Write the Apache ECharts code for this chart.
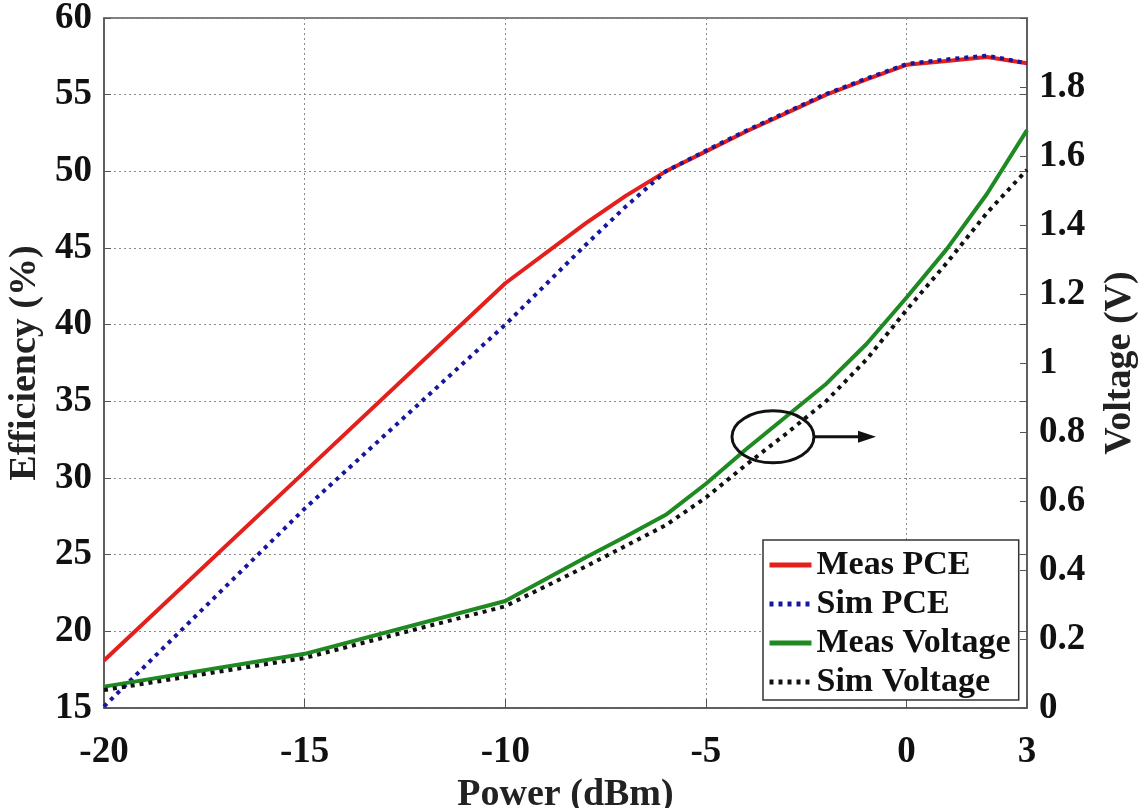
<!DOCTYPE html>
<html>
<head>
<meta charset="utf-8">
<script src="https://cdn.jsdelivr.net/npm/echarts@6/dist/echarts.min.js"></script>
<style>
html,body{margin:0;padding:0;background:#fff;}
#main{width:1146px;height:808px;}
</style>
</head>
<body>
<div id="main"></div>
<script>
// ---- data ----
var power = [-20, -15, -10, -8, -7, -6, -5, -4, -3, -2, -1, 0, 1, 2, 3];
var measPCE = [18.1, 30.4, 42.7, 46.6, 48.4, 50.0, 51.3, 52.6, 53.8, 55.0, 56.0, 56.95, 57.2, 57.45, 57.05];
var simPCE  = [15.1, 28.0, 40.0, 45.2, 47.7, 50.0, 51.35, 52.65, 53.85, 55.05, 56.05, 57.0, 57.3, 57.55, 57.05];
var measVoltage = [0.062, 0.157, 0.31, 0.436, 0.497, 0.56, 0.65, 0.75, 0.845, 0.94, 1.055, 1.19, 1.33, 1.49, 1.675];
var simVoltage  = [0.052, 0.145, 0.295, 0.41, 0.47, 0.53, 0.61, 0.705, 0.795, 0.89, 1.01, 1.154, 1.29, 1.435, 1.56];
var xTicks = [-20, -15, -10, -5, 0, 3];
var seriesNames = ['Meas PCE', 'Sim PCE', 'Meas Voltage', 'Sim Voltage'];

function pairs(xs, ys) { return xs.map(function (x, i) { return [x, ys[i]]; }); }

var FONT = "'Liberation Serif','Times New Roman',serif";
var labelStyle = { fontFamily: FONT, fontWeight: 'bold', fontSize: 37, color: '#111' };
var nameStyle = { fontFamily: FONT, fontWeight: 'bold', fontSize: 38, color: '#222' };
var gridLine = { show: true, lineStyle: { color: '#8a8a8a', width: 1, type: [2, 3] } };

var chart = echarts.init(document.getElementById('main'), null, { renderer: 'canvas' });
var option = {
  animation: false,
  backgroundColor: '#fff',
  grid: { left: 104, right: 119, top: 18, bottom: 100, outerBoundsMode: 'none', containLabel: false,
          show: true, borderColor: '#555', borderWidth: 1.5, backgroundColor: 'transparent' },
  xAxis: {
    type: 'value', min: -20, max: 3, interval: 5,
    name: 'Power (dBm)', nameLocation: 'middle', nameGap: 60, nameTextStyle: nameStyle,
    axisLine: { show: true, onZero: false, lineStyle: { color: '#555', width: 1.5 } },
    axisTick: { show: true, inside: true, length: 9, customValues: xTicks, lineStyle: { color: '#555' } },
    axisLabel: Object.assign({ margin: 26, customValues: xTicks }, labelStyle),
    splitLine: gridLine
  },
  yAxis: [
    {
      type: 'value', min: 15, max: 60, interval: 5, position: 'left',
      name: 'Efficiency (%)', nameLocation: 'middle', nameGap: 56, nameRotate: 90, nameTextStyle: nameStyle,
      axisLine: { show: true, onZero: false, lineStyle: { color: '#555', width: 1.5 } },
      axisTick: { show: true, inside: true, length: 7, lineStyle: { color: '#555' } },
      axisLabel: Object.assign({ margin: 12 }, labelStyle),
      splitLine: gridLine
    },
    {
      type: 'value', min: 0, max: 2, interval: 0.2, position: 'right',
      name: 'Voltage (V)', nameLocation: 'middle', nameGap: 74, nameRotate: 90, nameTextStyle: nameStyle,
      axisLine: { show: true, onZero: false, lineStyle: { color: '#555', width: 1.5 } },
      axisTick: { show: true, inside: true, length: 7, lineStyle: { color: '#555' } },
      axisLabel: Object.assign({ margin: 12, formatter: function (v) { return v >= 1.99 ? '' : String(+v.toFixed(1)); } }, labelStyle),
      splitLine: { show: false }
    },
    {
      type: 'value', min: 15, max: 60, interval: 5, position: 'right',
      axisLine: { show: false, onZero: false },
      axisTick: { show: true, inside: true, length: 7, lineStyle: { color: '#555' } },
      axisLabel: { show: false },
      splitLine: { show: false }
    }
  ],
  legend: {
    orient: 'vertical', left: 763, top: 540,
    data: seriesNames,
    itemWidth: 42, itemHeight: 14, itemGap: 5,
    padding: [8, 8, 1, 4],
    borderColor: '#333', borderWidth: 1.5, backgroundColor: '#fff',
    itemStyle: { color: 'transparent', borderWidth: 0, borderColor: 'transparent' },
    lineStyle: { width: 5 },
    textStyle: { fontFamily: FONT, fontWeight: 'bold', fontSize: 34, color: '#111', lineHeight: 34, padding: [0, 0, 0, 0] }
  },
  series: [
    { name: seriesNames[0], type: 'line', yAxisIndex: 0, data: pairs(power, measPCE), symbol: 'none',
      lineStyle: { color: '#e3201b', width: 4 }, itemStyle: { color: '#e3201b' } },
    { name: seriesNames[1], type: 'line', yAxisIndex: 0, data: pairs(power, simPCE), symbol: 'none',
      lineStyle: { color: '#1616a0', width: 4, type: [4, 5] }, itemStyle: { color: '#1616a0' } },
    { name: seriesNames[2], type: 'line', yAxisIndex: 1, data: pairs(power, measVoltage), symbol: 'none',
      lineStyle: { color: '#1f8a22', width: 4 }, itemStyle: { color: '#1f8a22' } },
    { name: seriesNames[3], type: 'line', yAxisIndex: 1, data: pairs(power, simVoltage), symbol: 'none',
      lineStyle: { color: '#111', width: 4, type: [4, 5] }, itemStyle: { color: '#111' } }
  ]
};
chart.setOption(option);

// annotation: ellipse around voltage curves with arrow pointing to right axis
var c = chart.convertToPixel({ xAxisIndex: 0, yAxisIndex: 1 }, [-3.33, 0.786]);
var rx = 41, ry = 26;
chart.setOption({
  graphic: [
    { type: 'ellipse', shape: { cx: c[0], cy: c[1], rx: rx, ry: ry }, style: { fill: 'none', stroke: '#111', lineWidth: 3 }, z: 100 },
    { type: 'line', shape: { x1: c[0] + rx, y1: c[1], x2: c[0] + rx + 46, y2: c[1] }, style: { stroke: '#111', lineWidth: 3 }, z: 100 },
    { type: 'polygon', shape: { points: [[c[0] + rx + 44, c[1] - 6], [c[0] + rx + 62, c[1]], [c[0] + rx + 44, c[1] + 6]] }, style: { fill: '#111' }, z: 100 }
  ]
});
</script>
</body>
</html>
